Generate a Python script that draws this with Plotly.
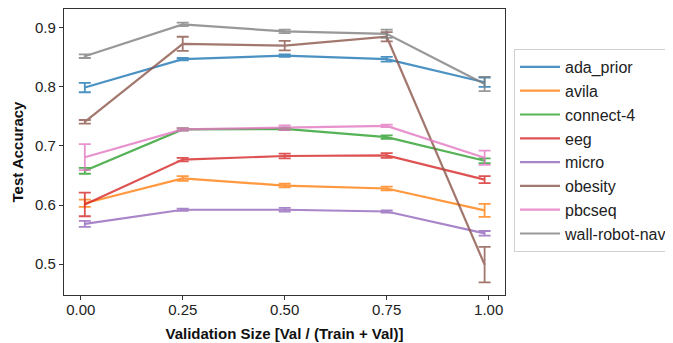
import plotly.graph_objects as go

x_vals = [0.01, 0.25, 0.50, 0.75, 0.99]
series_names = ["ada_prior", "avila", "connect-4", "eeg", "micro", "obesity", "pbcseq", "wall-robot-nav"]
ada_prior = [0.799, 0.847, 0.853, 0.847, 0.808]
ada_prior_err = [0.008, 0.002, 0.002, 0.004, 0.008]
avila = [0.603, 0.645, 0.633, 0.628, 0.591]
avila_err = [0.006, 0.004, 0.003, 0.003, 0.011]
connect_4 = [0.658, 0.728, 0.729, 0.715, 0.675]
connect_4_err = [0.005, 0.002, 0.002, 0.003, 0.004]
eeg = [0.601, 0.677, 0.683, 0.684, 0.643]
eeg_err = [0.020, 0.003, 0.004, 0.004, 0.006]
micro = [0.568, 0.592, 0.592, 0.589, 0.552]
micro_err = [0.005, 0.002, 0.003, 0.002, 0.004]
obesity = [0.741, 0.873, 0.870, 0.885, 0.499]
obesity_err = [0.003, 0.012, 0.008, 0.008, 0.030]
pbcseq = [0.681, 0.728, 0.731, 0.734, 0.680]
pbcseq_err = [0.022, 0.002, 0.004, 0.002, 0.012]
wall_robot_nav = [0.852, 0.906, 0.894, 0.890, 0.805]
wall_robot_nav_err = [0.003, 0.003, 0.003, 0.007, 0.012]

values = [ada_prior, avila, connect_4, eeg, micro, obesity, pbcseq, wall_robot_nav]
errors = [ada_prior_err, avila_err, connect_4_err, eeg_err, micro_err, obesity_err, pbcseq_err, wall_robot_nav_err]
colors = ["#1f77b4", "#ff7f0e", "#2ca02c", "#d62728", "#9467bd", "#8c564b", "#e377c2", "#7f7f7f"]

fig = go.Figure()
for name, v, e, c in zip(series_names, values, errors, colors):
    fig.add_trace(go.Scatter(
        x=x_vals, y=v, name=name, mode="lines",
        line=dict(color=c, width=2.2),
        opacity=0.8,
        error_y=dict(type="data", array=e, visible=True, color=c, thickness=1.8, width=6),
    ))

# the page adds an 8px body margin, so the figure is sized to fit inside it
W, H = 665, 336
L, R, T, B = 56, 168, 1, 49
font_family = "Liberation Sans, Arial, sans-serif"
fig.update_layout(
    width=W, height=H,
    margin=dict(l=L, r=R, t=T, b=B, autoexpand=False),
    paper_bgcolor="white", plot_bgcolor="white",
    font=dict(family=font_family, size=15, color="#222"),
    showlegend=True,
    legend=dict(
        x=(506 - L) / (W - L - R), y=1 - (41 - T) / (H - T - B),
        xanchor="left", yanchor="top",
        bordercolor="#d0d0d0", borderwidth=1,
        font=dict(size=16, color="#222"),
        itemwidth=40, tracegroupgap=0,
    ),
    xaxis=dict(
        range=[-0.041, 1.04], automargin=False,
        tickvals=[0, 0.25, 0.5, 0.75, 1.0], tickformat=".2f",
        showgrid=False, zeroline=False,
        showline=True, linecolor="#333", linewidth=1.2, mirror=True,
        ticks="outside", ticklen=4, tickcolor="#333", ticklabelstandoff=-3,
        title=dict(text="<b>Validation Size [Val / (Train + Val)]</b>", font=dict(size=15, color="#111"), standoff=11),
    ),
    yaxis=dict(
        range=[0.4476, 0.932], automargin=False,
        tickvals=[0.5, 0.6, 0.7, 0.8, 0.9], tickformat=".1f",
        showgrid=False, zeroline=False,
        showline=True, linecolor="#333", linewidth=1.2, mirror=True,
        ticks="outside", ticklen=4, tickcolor="#333",
        title=dict(text="<b>Test Accuracy</b>", font=dict(size=15, color="#111"), standoff=7),
    ),
)

fig.write_html("out.html")
